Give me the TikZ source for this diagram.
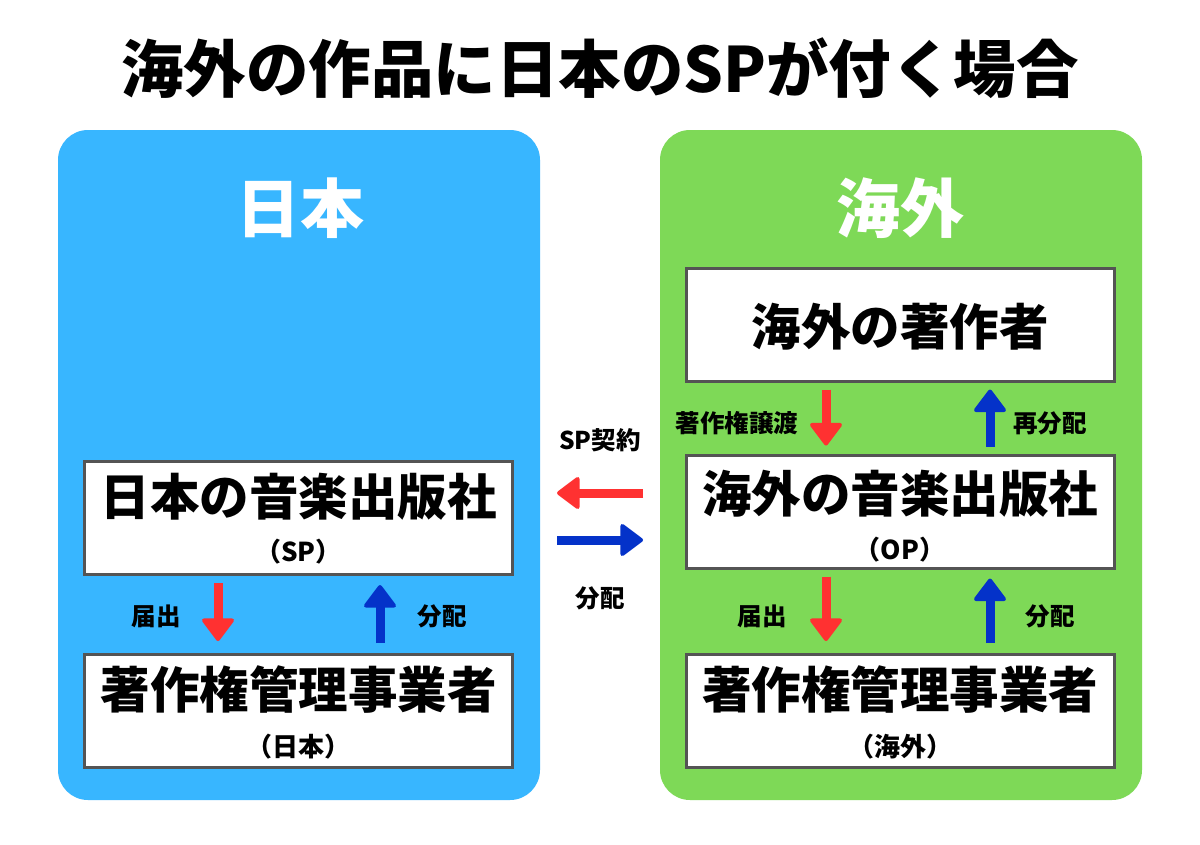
\documentclass[tikz,border=0pt]{standalone}
\usepackage{fontspec}
\setmainfont{Noto Sans CJK JP}
\usetikzlibrary{arrows.meta}
\definecolor{panelblue}{HTML}{38B6FF}
\definecolor{panelgreen}{HTML}{7ED957}
\definecolor{arrred}{HTML}{FF3131}
\definecolor{arrblue}{HTML}{0432C9}
\definecolor{boxgray}{HTML}{545454}
\tikzset{
  panel/.style={rounded corners=30pt, draw=none},
  box/.style={draw=boxgray, line width=3pt, fill=white, minimum width=428pt, minimum height=113pt, inner sep=0pt},
  bigtxt/.style={font=\fontsize{49.5}{52}\selectfont\bfseries, inner sep=0pt},
  subtxt/.style={font=\fontsize{26}{28}\selectfont\bfseries, inner sep=0pt},
  smalltxt/.style={font=\fontsize{24.5}{26}\selectfont\bfseries, inner sep=0pt},
  headtxt/.style={font=\fontsize{64}{66}\selectfont\bfseries, text=white, inner sep=0pt},
  arr/.style={line width=9pt, -{Triangle[width=35pt,length=24pt,round,line width=4pt]}},
}
\begin{document}
\begin{tikzpicture}[x=1pt,y=-1pt]
\fill[white] (0,0) rectangle (1200,844);
\useasboundingbox (0,0) rectangle (1200,844);
% title
\node[font=\fontsize{62.5}{64}\selectfont\bfseries, inner sep=0pt] (title) at (600,68) {海外の作品に日本のSPが付く場合};
% panels
\fill[panel, panelblue] (58,130) rectangle (540,800);
\fill[panel, panelgreen] (660,130) rectangle (1142,800);
\node[headtxt] (hjp) at (300,208) {日本};
\node[headtxt] (hos) at (900,208) {海外};
% boxes
\node[box] (sp) at (298.5,518) {};
\node[box] (jl) at (298.5,711) {};
\node[box] (au) at (900,324.5) {};
\node[box] (op) at (900,511.5) {};
\node[box] (jo) at (900,711) {};
% box texts
\node[bigtxt] (sptxt) at (298.5,497) {日本の音楽出版社};
\node[subtxt] (spsub) at (298.5,552) {（SP）};
\node[bigtxt] (jltxt) at (298.5,690) {著作権管理事業者};
\node[subtxt] (jlsub) at (298.5,747) {（日本）};
\node[bigtxt] (autxt) at (900,327) {海外の著作者};
\node[bigtxt] (optxt) at (900,494) {海外の音楽出版社};
\node[subtxt] (opsub) at (900,550) {（OP）};
\node[bigtxt] (jotxt) at (900,690) {著作権管理事業者};
\node[subtxt] (josub) at (900,747) {（海外）};
% x guides
\coordinate (xl1) at (218,0);
\coordinate (xl2) at (380,0);
\coordinate (xr1) at (826,0);
\coordinate (xr2) at (990,0);
% vertical arrows
\draw[arr, arrred] (sp.south -| xl1) -- (jl.north -| xl1) [shorten <=7pt, shorten >=12pt];
\draw[arr, arrblue] (jl.north -| xl2) -- (sp.south -| xl2) [shorten <=10pt, shorten >=9pt];
\draw[arr, arrred] (au.south -| xr1) -- (op.north -| xr1) [shorten <=7pt, shorten >=8pt];
\draw[arr, arrblue] (op.north -| xr2) -- (au.south -| xr2) [shorten <=7pt, shorten >=7pt];
\draw[arr, arrred] (op.south -| xr1) -- (jo.north -| xr1) [shorten <=7pt, shorten >=12pt];
\draw[arr, arrblue] (jo.north -| xr2) -- (op.south -| xr2) [shorten <=10pt, shorten >=9pt];
% labels
\node[smalltxt] (l1) at (156,616) {届出};
\node[smalltxt] (l2) at (442,616) {分配};
\node[smalltxt] (l3) at (762,616) {届出};
\node[smalltxt] (l4) at (1050,616) {分配};
\node[smalltxt] (l5) at (737,423) {著作権譲渡};
\node[smalltxt] (l6) at (1050,423) {再分配};
% middle
\node[smalltxt] (spk) at (600,440) {SP契約};
\node[smalltxt] (bun) at (600,598) {分配};
\coordinate (mr1) at (643,493);
\coordinate (mr2) at (557,493);
\coordinate (mb1) at (557,540);
\coordinate (mb2) at (643,540);
\draw[arr, arrred] (mr1) -- (mr2);
\draw[arr, arrblue] (mb1) -- (mb2);
\end{tikzpicture}
\end{document}
